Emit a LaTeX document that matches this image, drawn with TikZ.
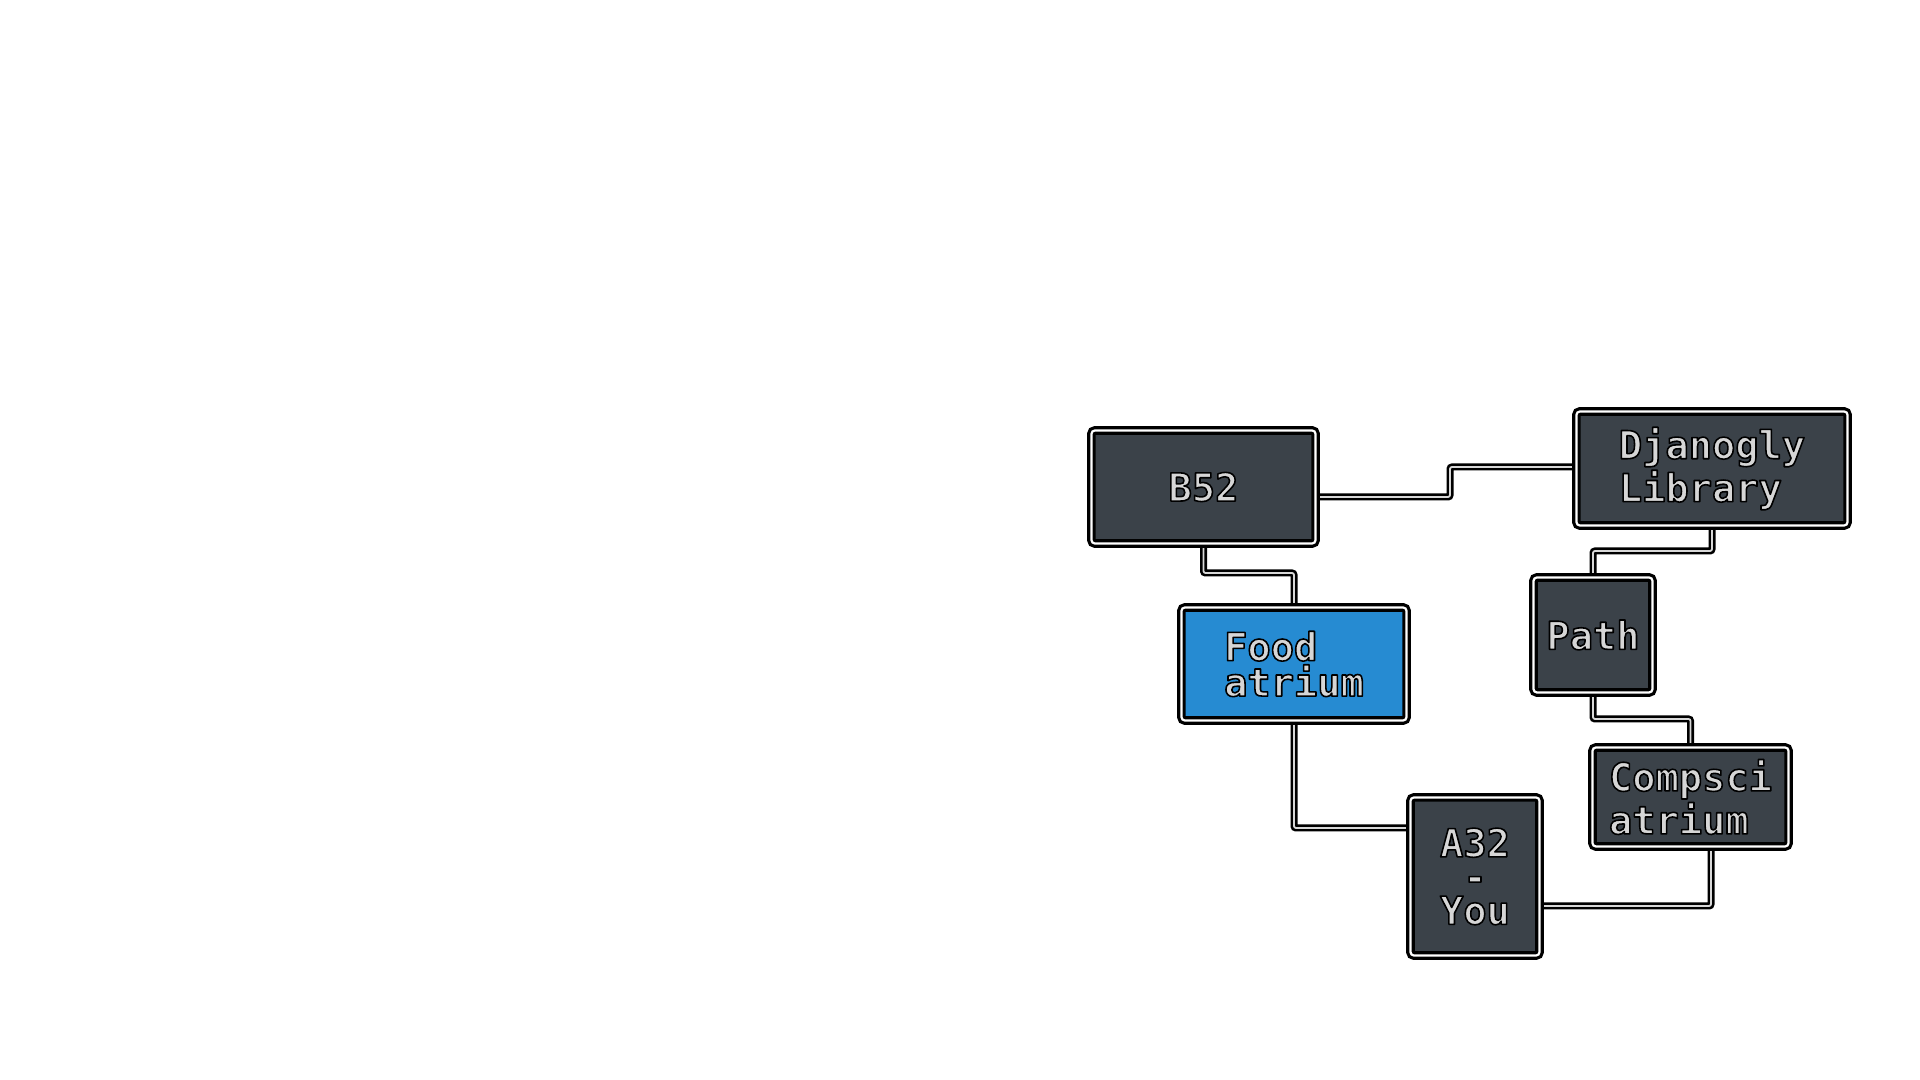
\documentclass[tikz,border=0pt]{standalone}
\usepackage{fontspec}
\newfontfamily\pixfont{DejaVu Sans Mono}[BoldFont={DejaVu Sans Mono Bold}]
\usetikzlibrary{backgrounds}
\definecolor{boxgray}{HTML}{3B4249}
\definecolor{boxblue}{HTML}{268BD2}
\definecolor{txtgray}{HTML}{D6D6D6}
\definecolor{linegray}{HTML}{D8D8D8}
\newcommand{\pixtxt}[1]{\textcolor{txtgray}{\special{pdf:literal direct 0 0 0 RG 1 j 2 Tr 0.45 w}#1\special{pdf:literal direct 0 Tr}}}
\tikzset{
  box/.style={draw=black, line width=0.32mm, double=white, double distance=0.22mm,
    rounded corners=0.35mm, fill=boxgray, inner sep=0pt, align=left,
    font=\pixfont\bfseries\fontsize{11}{8.4}\selectfont},
  bluebox/.style={box, fill=boxblue},
  conn/.style={draw=black, line width=0.26mm, double=linegray, double distance=0.18mm,
    rounded corners=0.2mm}
}
\begin{document}
\begin{tikzpicture}[x=0.01cm, y=-0.01cm]
\useasboundingbox (0,0) rectangle (1920,1080);
\node[box, minimum width=22.4mm, minimum height=11.3mm] (b52) at (1203.5,487) {\pixtxt{B52}};
\node[box, minimum width=27.1mm, minimum height=11.4mm] (djan) at (1712,468.5) {\pixtxt{Djanogly}\\\pixtxt{Library}};
\node[bluebox, minimum width=22.5mm, minimum height=11.3mm] (food) at (1294,664) {\pixtxt{Food}\\\pixtxt{atrium}};
\node[box, minimum width=11.9mm, minimum height=11.5mm] (path) at (1593,635) {\pixtxt{Path}};
\node[box, minimum width=19.6mm, minimum height=9.9mm] (comp) at (1690.5,797) {\pixtxt{Compsci}\\\pixtxt{atrium}};
\node[box, align=center, minimum width=12.9mm, minimum height=15.8mm,
  font=\pixfont\bfseries\fontsize{11}{9.6}\selectfont] (a32) at (1475,876.5) {\pixtxt{A32}\\\pixtxt{-}\\\pixtxt{You}};
\begin{pgfonlayer}{background}
\coordinate (c1) at ([yshift=-1mm]b52.east);
\draw[conn] (c1) -- (1450,497) -- (1450,467) -- (djan.west |- 1450,467);
\draw[conn] (b52.south) -- (b52.south |- 0,573) -- (food.north |- 0,573) -- (food.north);
\draw[conn] (food.south) -- (food.south |- 0,828) -- (a32.west |- 0,828);
\draw[conn] (djan.south) -- (djan.south |- 0,551) -- (path.north |- 0,551) -- (path.north);
\draw[conn] (path.south) -- (path.south |- 0,719) -- (comp.north |- 0,719) -- (comp.north);
\coordinate (c6) at ([xshift=2.05mm]comp.south);
\draw[conn] (c6) -- (c6 |- 0,906) -- (a32.east |- 0,906);
\end{pgfonlayer}
\end{tikzpicture}
\end{document}
